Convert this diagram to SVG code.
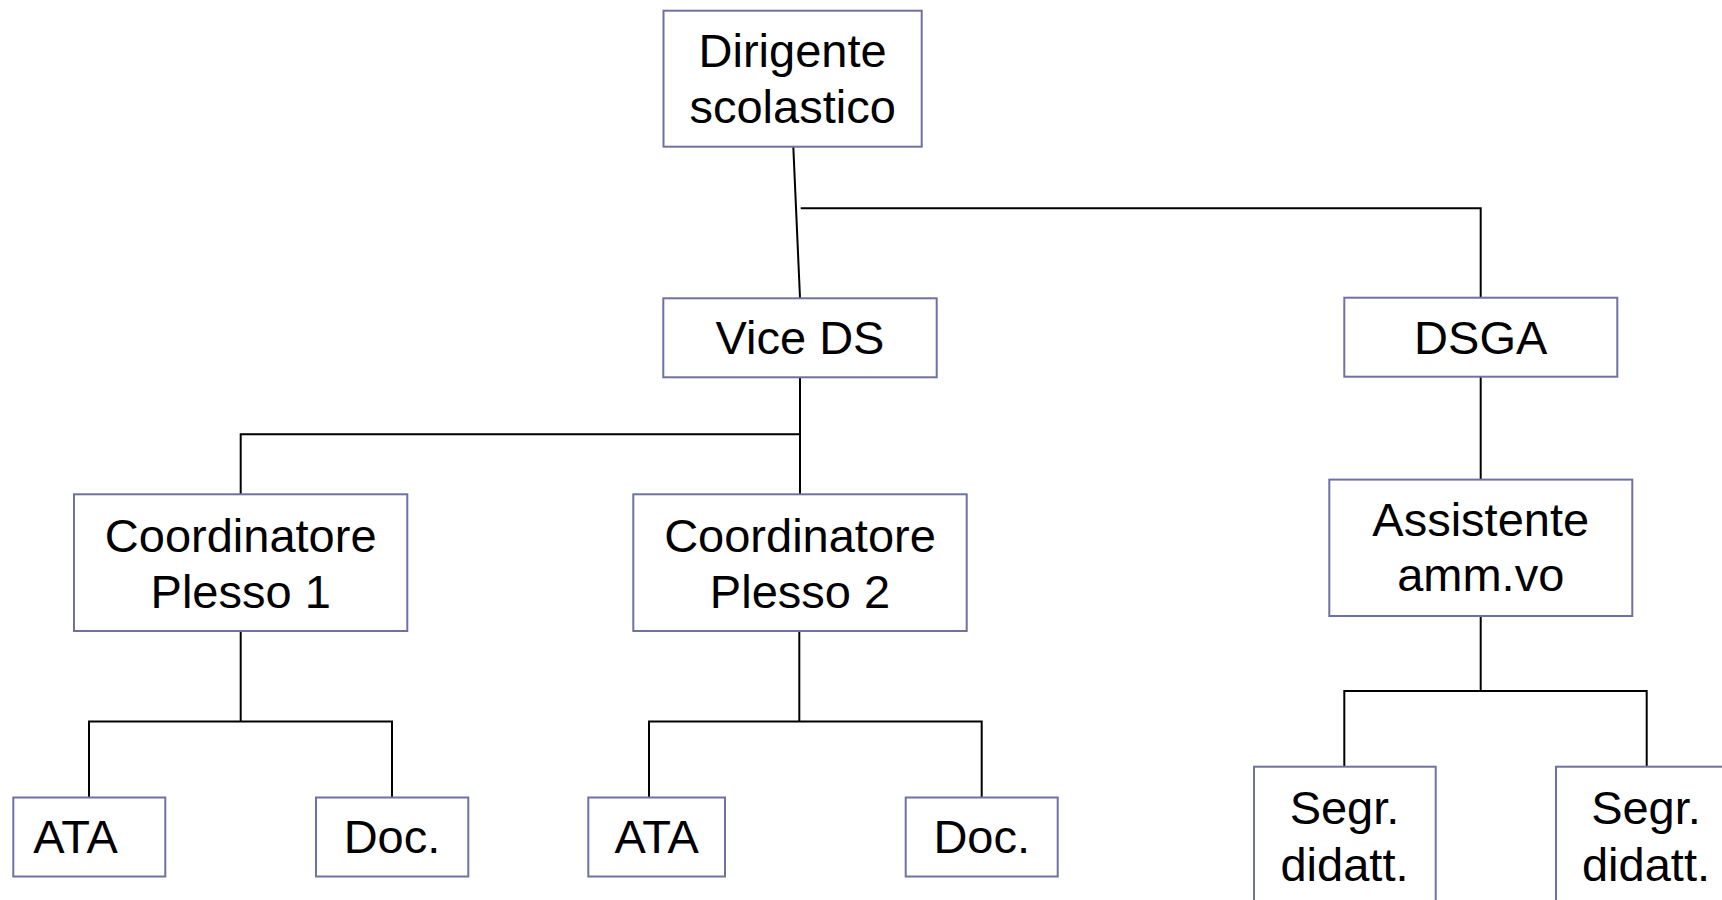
<svg xmlns="http://www.w3.org/2000/svg" width="1722" height="900" viewBox="0 0 1722 900">
<style>
.box{fill:#ffffff;stroke:#7070a4;stroke-width:2}
.lbl{font-family:"Liberation Sans",Arial,sans-serif;font-size:47px;fill:#000000;text-anchor:middle}
.ln{fill:none;stroke:#000000;stroke-width:2}
</style>
<rect width="1722" height="900" fill="#ffffff"/>
<g id="connectors">
<line class="ln" x1="793.3" y1="146.7" x2="800" y2="298"/>
<polyline class="ln" points="800.7,208.3 1480.7,208.3 1480.7,298"/>
<line class="ln" x1="800" y1="377" x2="800" y2="494.3"/>
<polyline class="ln" points="800,434.3 240.7,434.3 240.7,494.3"/>
<line class="ln" x1="240.7" y1="631" x2="240.7" y2="721.5"/>
<polyline class="ln" points="89,797.5 89,721.5 392,721.5 392,797.5"/>
<line class="ln" x1="799.3" y1="631" x2="799.3" y2="721.5"/>
<polyline class="ln" points="649,797.5 649,721.5 981.7,721.5 981.7,797.5"/>
<line class="ln" x1="1480.7" y1="376.7" x2="1480.7" y2="479.6"/>
<line class="ln" x1="1480.7" y1="616" x2="1480.7" y2="691"/>
<polyline class="ln" points="1344.3,766.7 1344.3,691 1646.7,691 1646.7,766.7"/>
</g>
<g id="dirigente">
<rect class="box" x="663.5" y="10.7" width="258.2" height="136"/>
<text class="lbl" x="792.6" y="67">Dirigente</text>
<text class="lbl" x="792.6" y="122.5">scolastico</text>
</g>
<g id="vice-ds">
<rect class="box" x="663.3" y="298.3" width="273.4" height="79"/>
<text class="lbl" x="800" y="353.5">Vice DS</text>
</g>
<g id="dsga">
<rect class="box" x="1344.3" y="297.7" width="273" height="79"/>
<text class="lbl" x="1480.7" y="354">DSGA</text>
</g>
<g id="coord1">
<rect class="box" x="74" y="494.3" width="333.3" height="136.7"/>
<text class="lbl" x="240.7" y="552">Coordinatore</text>
<text class="lbl" x="240.7" y="607.5">Plesso 1</text>
</g>
<g id="coord2">
<rect class="box" x="633.3" y="494.3" width="333.4" height="136.7"/>
<text class="lbl" x="800" y="552">Coordinatore</text>
<text class="lbl" x="800" y="607.5">Plesso 2</text>
</g>
<g id="assistente">
<rect class="box" x="1329.3" y="479.6" width="303" height="136.4"/>
<text class="lbl" x="1480.7" y="535.5">Assistente</text>
<text class="lbl" x="1480.7" y="591">amm.vo</text>
</g>
<g id="ata1">
<rect class="box" x="13.3" y="797.5" width="152" height="79"/>
<text class="lbl" x="33.3" y="853.3" style="text-anchor:start">ATA</text>
</g>
<g id="doc1">
<rect class="box" x="316" y="797.5" width="152.3" height="79"/>
<text class="lbl" x="392" y="853.3">Doc.</text>
</g>
<g id="ata2">
<rect class="box" x="588.3" y="797.5" width="136.7" height="79"/>
<text class="lbl" x="656.7" y="853.3">ATA</text>
</g>
<g id="doc2">
<rect class="box" x="905.7" y="797.5" width="152" height="79"/>
<text class="lbl" x="981.7" y="853.3">Doc.</text>
</g>
<g id="segr1">
<rect class="box" x="1254" y="766.7" width="181.7" height="160"/>
<text class="lbl" x="1344.5" y="823.5">Segr.</text>
<text class="lbl" x="1344.5" y="880.5">didatt.</text>
</g>
<g id="segr2">
<rect class="box" x="1556" y="766.7" width="181.7" height="160"/>
<text class="lbl" x="1646" y="823.5">Segr.</text>
<text class="lbl" x="1646" y="880.5">didatt.</text>
</g>
</svg>
